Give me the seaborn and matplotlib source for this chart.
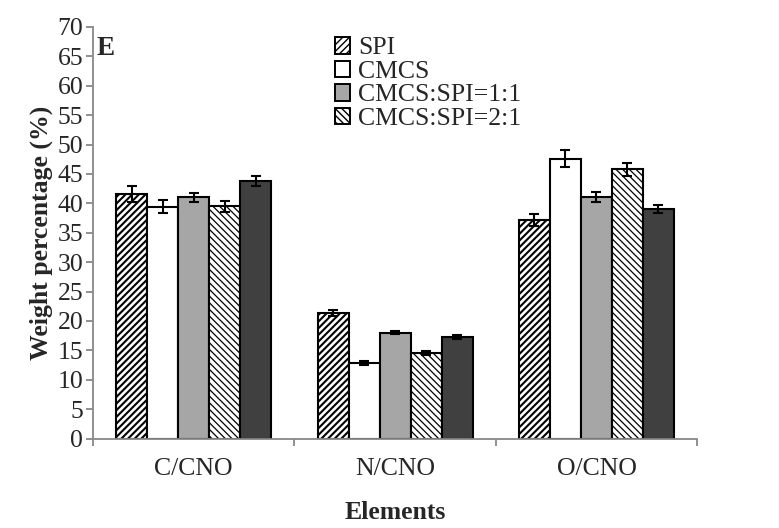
import matplotlib
matplotlib.use("Agg")
import matplotlib.pyplot as plt
import seaborn as sns
import pandas as pd
from matplotlib.patches import Patch

# Element ratios (weight %) for each sample, with standard deviations
elements = ["C/CNO", "N/CNO", "O/CNO"]
samples = ["SPI", "CMCS", "CMCS:SPI=1:1", "CMCS:SPI=2:1", "CMCS:SPI=3:1"]
spi = [41.6, 21.4, 37.2]
cmcs = [39.4, 12.8, 47.6]
mix_1_1 = [41.0, 18.0, 41.0]
mix_2_1 = [39.5, 14.6, 45.8]
mix_3_1 = [43.8, 17.2, 39.0]
spi_err = [1.3, 0.5, 1.0]
cmcs_err = [1.1, 0.35, 1.4]
mix_1_1_err = [0.8, 0.3, 0.85]
mix_2_1_err = [0.9, 0.35, 1.1]
mix_3_1_err = [0.85, 0.35, 0.7]
yticks = list(range(0, 75, 5))

series = [spi, cmcs, mix_1_1, mix_2_1, mix_3_1]
errors = [spi_err, cmcs_err, mix_1_1_err, mix_2_1_err, mix_3_1_err]

rows = []
for s, vals, errs in zip(samples, series, errors):
    for e, v, d in zip(elements, vals, errs):
        rows.append({"Elements": e, "Sample": s, "Weight": v, "SD": d})
df = pd.DataFrame(rows)

sns.set_theme(style="white")
plt.rcParams["font.family"] = ["Liberation Serif", "DejaVu Serif"]
plt.rcParams["hatch.color"] = "black"

FS = 18.5

fig = plt.figure(figsize=(7.79, 5.28), dpi=100)
ax = fig.add_axes([0.1194, 0.1695, 0.7755, 0.7795])

face = ["white", "white", "#a6a6a6", "white", "#404040"]
hatch = ["/////", "", "", "\\\\\\\\\\", ""]
hatch_lw = [1.5, 1.0, 1.0, 0.9, 1.0]

sns.barplot(data=df, x="Elements", y="Weight", hue="Sample", order=elements,
            hue_order=samples, width=0.77, errorbar=None, ax=ax,
            legend=False, saturation=1)

bar_groups = list(ax.containers)
for i, cont in enumerate(bar_groups):
    for bar in cont:
        bar.set_facecolor(face[i])
        bar.set_edgecolor("black")
        bar.set_linewidth(1.5)
        if hatch[i]:
            bar.set_hatch(hatch[i])
            bar._hatch_linewidth = hatch_lw[i]
    xs = [b.get_x() + b.get_width() / 2 for b in cont]
    ys = [b.get_height() for b in cont]
    ax.errorbar(xs, ys, yerr=errors[i], fmt="none", ecolor="black",
                elinewidth=1.5, capsize=3.8, capthick=1.5, zorder=5)

ax.set_ylim(0, 70)
ax.set_xlim(-0.5, 2.5)
ax.set_yticks(yticks)
ax.set_yticklabels([str(t) for t in yticks], fontsize=FS)
ax.set_xticks(range(len(elements)))
ax.set_xticklabels(elements, fontsize=FS)
ax.set_xticks([-0.5, 0.5, 1.5, 2.5], minor=True)
ax.tick_params(axis="x", which="major", length=0, pad=14)
ax.tick_params(axis="x", which="minor", length=5, width=1.3, color="#888888",
               direction="out", bottom=True)
ax.tick_params(axis="y", length=5, width=1.3, color="#888888", direction="out",
               left=True, pad=2)

for side in ["top", "right"]:
    ax.spines[side].set_visible(False)
for side in ["left", "bottom"]:
    ax.spines[side].set_color("#888888")
    ax.spines[side].set_linewidth(1.3)

ax.set_xlabel("Elements", fontsize=FS, fontweight="bold", labelpad=15)
ax.set_ylabel("Weight percentage (%)", fontsize=FS, fontweight="bold", labelpad=3)

ax.text(0.006, 0.978, "E", transform=ax.transAxes, fontsize=19.5,
        fontweight="bold", va="top", ha="left")

handles = []
for i in range(4):
    h = Patch(facecolor=face[i], edgecolor="black", linewidth=1.4,
              hatch=("/////" if i == 0 else ("\\\\\\\\\\" if i == 3 else "")))
    h._hatch_linewidth = 1.4 if i == 0 else 0.9
    handles.append(h)
ax.legend(handles, samples[:4], loc="upper left", bbox_to_anchor=(0.4, 0.975),
          frameon=False, fontsize=FS, handlelength=0.6, handleheight=0.6,
          handletextpad=0.3, labelspacing=0.05, borderaxespad=0, borderpad=0)

fig.savefig("out.png", dpi=100)
